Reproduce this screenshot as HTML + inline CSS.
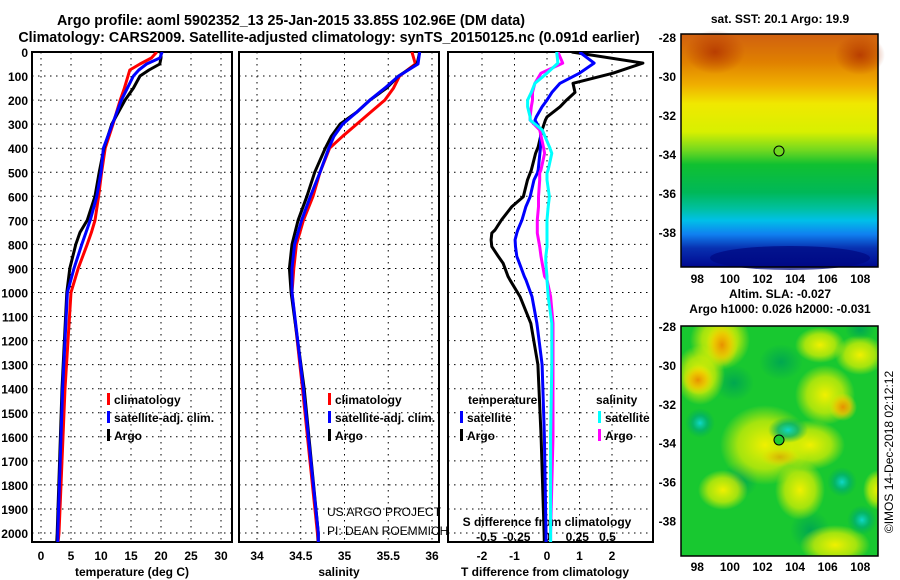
<!DOCTYPE html>
<html><head><meta charset="utf-8"><style>
body{margin:0;background:#fff;}
svg{display:block;font-family:"Liberation Sans",sans-serif;}
.b{font-weight:bold;font-size:14.3px;}
.t{font-weight:bold;font-size:12px;}
</style></head><body>
<svg id="s" width="900" height="580" viewBox="0 0 900 580" xmlns="http://www.w3.org/2000/svg">
<defs>
<linearGradient id="sst" x1="0" y1="0" x2="0" y2="1">
<stop offset="0" stop-color="#d06010"/><stop offset="0.12" stop-color="#e08000"/>
<stop offset="0.22" stop-color="#f0b000"/><stop offset="0.3" stop-color="#f0e800"/>
<stop offset="0.42" stop-color="#d8f000"/><stop offset="0.5" stop-color="#70d820"/>
<stop offset="0.56" stop-color="#10c030"/><stop offset="0.68" stop-color="#00b858"/>
<stop offset="0.75" stop-color="#00c0a0"/><stop offset="0.8" stop-color="#00c0e8"/>
<stop offset="0.86" stop-color="#1080f0"/><stop offset="0.92" stop-color="#0830b0"/>
<stop offset="1" stop-color="#000890"/></linearGradient>
<radialGradient id="rr"><stop offset="0" stop-color="#b03000" stop-opacity="0.8"/><stop offset="1" stop-color="#b03000" stop-opacity="0"/></radialGradient>
<radialGradient id="gy"><stop offset="0" stop-color="#f0f000"/><stop offset="0.6" stop-color="#e0f000" stop-opacity="0.7"/><stop offset="1" stop-color="#e0f000" stop-opacity="0"/></radialGradient>
<radialGradient id="go"><stop offset="0" stop-color="#e89000"/><stop offset="0.5" stop-color="#f0c000" stop-opacity="0.8"/><stop offset="1" stop-color="#f0e000" stop-opacity="0"/></radialGradient>
<radialGradient id="gt"><stop offset="0" stop-color="#10d8c8"/><stop offset="0.5" stop-color="#00b070" stop-opacity="0.8"/><stop offset="1" stop-color="#00b050" stop-opacity="0"/></radialGradient>
<radialGradient id="gd"><stop offset="0" stop-color="#00a850"/><stop offset="1" stop-color="#00a850" stop-opacity="0"/></radialGradient>
<clipPath id="c1"><rect x="32" y="52" width="200" height="490"/></clipPath>
<clipPath id="c2"><rect x="239" y="52" width="200" height="490"/></clipPath>
<clipPath id="c3"><rect x="448" y="52" width="205" height="490"/></clipPath>
<clipPath id="cm2"><rect x="681" y="326" width="197" height="230"/></clipPath>
</defs>
<text x="291" y="25" text-anchor="middle" class="b">Argo profile: aoml 5902352_13 25-Jan-2015 33.85S 102.96E (DM data)</text>
<text x="329" y="42" text-anchor="middle" class="b">Climatology: CARS2009. Satellite-adjusted climatology: synTS_20150125.nc (0.091d earlier)</text>
<g id="g"></g>
<g>
<rect x="681" y="34" width="197" height="233" fill="url(#sst)"/>
<ellipse cx="715" cy="52" rx="30" ry="22" fill="url(#rr)"/>
<ellipse cx="860" cy="55" rx="25" ry="20" fill="url(#rr)"/>
<ellipse cx="790" cy="258" rx="80" ry="12" fill="#000880" opacity="0.7"/>
<rect x="681" y="34" width="197" height="233" fill="none" stroke="#000" stroke-width="1.5"/>
<circle cx="779" cy="151" r="5" fill="#70d820" stroke="#000"/>
</g>
<text x="780" y="23" text-anchor="middle" class="t">sat. SST: 20.1 Argo: 19.9</text>
<g>
<rect x="681" y="326" width="197" height="230" fill="#18c830"/>
<g clip-path="url(#cm2)">
<ellipse cx="781" cy="362" rx="22" ry="18" fill="url(#gd)"/>
<ellipse cx="734" cy="383" rx="20" ry="18" fill="url(#gd)"/>
<ellipse cx="740" cy="480" rx="18" ry="18" fill="url(#gd)"/>
<ellipse cx="810" cy="530" rx="20" ry="20" fill="url(#gd)"/>
<ellipse cx="720" cy="340" rx="30" ry="30" fill="url(#gy)"/>
<ellipse cx="700" cy="375" rx="25" ry="30" fill="url(#gy)"/>
<ellipse cx="765" cy="445" rx="45" ry="40" fill="url(#gy)"/>
<ellipse cx="810" cy="445" rx="35" ry="25" fill="url(#gy)"/>
<ellipse cx="825" cy="395" rx="30" ry="30" fill="url(#gy)"/>
<ellipse cx="820" cy="345" rx="25" ry="18" fill="url(#gy)"/>
<ellipse cx="860" cy="355" rx="25" ry="20" fill="url(#gy)"/>
<ellipse cx="723" cy="490" rx="25" ry="20" fill="url(#gy)"/>
<ellipse cx="800" cy="490" rx="25" ry="30" fill="url(#gy)"/>
<ellipse cx="835" cy="545" rx="35" ry="20" fill="url(#gy)"/>
<ellipse cx="878" cy="490" rx="15" ry="20" fill="url(#gy)"/>
<ellipse cx="722" cy="345" rx="16" ry="22" fill="url(#go)"/>
<ellipse cx="698" cy="380" rx="16" ry="15" fill="url(#go)"/>
<ellipse cx="843" cy="407" rx="14" ry="14" fill="url(#go)"/>
<ellipse cx="780" cy="457" rx="20" ry="10" fill="url(#go)" opacity="0.6"/>
<ellipse cx="700" cy="423" rx="15" ry="15" fill="url(#gt)"/>
<ellipse cx="788" cy="430" rx="20" ry="13" fill="url(#gt)"/>
<ellipse cx="842" cy="482" rx="15" ry="15" fill="url(#gt)"/>
<ellipse cx="862" cy="520" rx="15" ry="15" fill="url(#gt)"/>
<ellipse cx="860" cy="330" rx="15" ry="10" fill="url(#gd)"/>
</g>
<rect x="681" y="326" width="197" height="230" fill="none" stroke="#000" stroke-width="1.5"/>
<circle cx="779" cy="440" r="5" fill="#20cc30" stroke="#000"/>
</g>
<text x="780" y="298" text-anchor="middle" class="t">Altim. SLA: -0.027</text>
<text x="780" y="313" text-anchor="middle" class="t">Argo h1000: 0.026 h2000: -0.031</text>
<text transform="translate(893,452) rotate(-90)" text-anchor="middle" font-size="12">©IMOS 14-Dec-2018 02:12:12</text>
<text x="327" y="516" font-size="12">US ARGO PROJECT</text>
<text x="327" y="535" font-size="12">PI: DEAN ROEMMICH</text>
</svg>
<script>
const depthT=[0,25,50,75,100,150,200,300,400,500,600,700,750,800,900,1000,1400,2000,2050];
const argoTemp=[20.0,20.0,19.8,18.0,16.5,15.4,14.0,11.8,10.5,9.7,9.0,7.7,6.5,5.8,4.8,4.3,3.5,2.7,2.6];
const climTemp=[19.3,18.4,16.5,14.8,14.5,13.9,13.2,12.0,10.7,10.1,9.6,9.0,8.4,7.7,6.2,5.0,4.0,3.0,2.8];
const satTemp=[20.2,19.8,17.6,16.3,15.4,14.4,13.4,11.9,10.4,10.0,9.3,8.2,7.5,6.8,5.5,4.4,3.6,2.8,2.8];
const depthS=[0,50,100,150,200,250,300,350,400,500,600,700,800,900,1000,1400,2000,2050];
const argoSal=[35.86,35.83,35.62,35.48,35.29,35.14,34.95,34.85,34.78,34.66,34.57,34.47,34.40,34.37,34.39,34.54,34.70,34.70];
const climSal=[35.77,35.81,35.63,35.56,35.46,35.30,35.14,34.98,34.83,34.72,34.64,34.53,34.45,34.42,34.40,34.52,34.69,34.70];
const satSal=[35.86,35.84,35.62,35.46,35.29,35.14,34.98,34.88,34.82,34.72,34.61,34.51,34.43,34.40,34.40,34.53,34.70,34.70];
const depthD=[0,46,88,130,168,200,228,270,283,324,394,421,490,504,532,602,643,698,740,753,781,809,850,878,933,947,1017,1128,1300,1600,2000,2050];
const argoTdiff=[0.76,2.95,2.03,0.8,0.86,0.6,0.4,0.0,-0.05,-0.15,-0.27,-0.35,-0.48,-0.52,-0.6,-0.73,-1.08,-1.4,-1.6,-1.7,-1.72,-1.7,-1.5,-1.35,-1.2,-1.14,-0.83,-0.5,-0.28,-0.18,-0.09,-0.08];
const satTdiff=[1.0,1.45,1.0,0.4,0.15,0.0,-0.15,-0.33,-0.37,-0.2,-0.2,-0.22,-0.27,-0.3,-0.4,-0.52,-0.65,-0.77,-0.9,-0.93,-0.98,-0.97,-0.93,-0.85,-0.7,-0.65,-0.46,-0.31,-0.15,-0.08,-0.03,-0.03];
const satSdiff=[0.08,0.09,0.0,-0.1,-0.13,-0.16,-0.16,-0.14,-0.14,-0.04,0.02,0.04,0.01,0.0,0.0,0.02,0.01,0.0,0.0,0.0,0.0,0.0,-0.01,-0.01,0.0,0.0,0.01,0.04,0.04,0.03,0.03,0.03];
const argoSdiff=[0.09,0.13,-0.05,-0.1,-0.12,-0.12,-0.13,-0.14,-0.14,-0.06,-0.03,-0.02,-0.05,-0.06,-0.06,-0.07,-0.07,-0.08,-0.08,-0.08,-0.07,-0.06,-0.05,-0.04,-0.02,0.0,0.03,0.05,0.05,0.05,0.03,0.03];
const depthTicks=[0,100,200,300,400,500,600,700,800,900,1000,1100,1200,1300,1400,1500,1600,1700,1800,1900,2000];
const tempTicks=[0,5,10,15,20,25,30];
const salTicks=[34,34.5,35,35.5,36];
const tdiffTicks=[-2,-1,0,1,2];
const sdiffTicks=[-0.5,-0.25,0,0.25,0.5];
const lonTicks=[98,100,102,104,106,108];
const latTicks=[-28,-30,-32,-34,-36,-38];
const yD=d=>52+d*0.2405;
const xT=v=>41+v*6;
const xS=v=>257+(v-34)*87.5;
const xTD=v=>547+v*32.5;
const xSD=v=>547+v*121;
const xLon=v=>681+(v-97)*16.3;
const yLat1=v=>37+(-28-v)*19.5;
const yLat2=v=>326+(-28-v)*19.45;
const NS='http://www.w3.org/2000/svg';
const G=document.getElementById('g');
function mk(tag,attrs,txt){const e=document.createElementNS(NS,tag);for(const k in attrs)e.setAttribute(k,attrs[k]);if(txt!==undefined)e.textContent=txt;G.appendChild(e);return e;}
const panels=[[32,232,xT,tempTicks,'temperature (deg C)',132],[239,439,xS,salTicks,'salinity',339],[448,653,xTD,tdiffTicks,'T difference from climatology',545]];
panels.forEach((p,i)=>{
  const [l,r,sx,ticks,title,cx]=p;
  depthTicks.forEach(d=>{const ln=mk('line',{x1:l,x2:r,y1:yD(d),y2:yD(d),stroke:'#000','stroke-dasharray':'1.5 4.5','stroke-width':1});
    
    });
  ticks.forEach(t=>{const x=sx(t);const ln=mk('line',{x1:x,x2:x,y1:52,y2:542,stroke:'#000','stroke-dasharray':'1.5 4.5','stroke-width':1});
    
    
    const tx=mk('text',{x:x,y:560,'text-anchor':'middle','class':'t'},String(t));
    
    });
  const bx=mk('rect',{x:l,y:52,width:r-l,height:490,fill:'none',stroke:'#000','stroke-width':2});
  
  
  const at=mk('text',{x:cx,y:576,'text-anchor':'middle','class':'t'},title);
  
  
});
depthTicks.forEach(d=>{const t=mk('text',{x:28,y:yD(d)+5,'text-anchor':'end','class':'t'},String(d));
  
  });
sdiffTicks.forEach(t=>{const e=mk('text',{x:xSD(t),y:541,'text-anchor':'middle','class':'t'},String(t));
  
  });
const sdt=mk('text',{x:547,y:526,'text-anchor':'middle','class':'t'},'S difference from climatology');


function line(xs,ds,sx,col,clip,name){
  const pts=xs.map((v,i)=>sx(v).toFixed(1)+','+yD(ds[i]).toFixed(1)).join(' ');
  const e=mk('polyline',{points:pts,fill:'none',stroke:col,'stroke-width':3,'clip-path':'url(#'+clip+')','stroke-linejoin':'round'});
  
  
}
line(climTemp,depthT,xT,'#ff0000','c1','temp-climatology-line');
line(argoTemp,depthT,xT,'#000','c1','temp-argo-line');
line(satTemp,depthT,xT,'#0000ff','c1','temp-satellite-line');
line(climSal,depthS,xS,'#ff0000','c2','sal-climatology-line');
line(argoSal,depthS,xS,'#000','c2','sal-argo-line');
line(satSal,depthS,xS,'#0000ff','c2','sal-satellite-line');
line(argoTdiff,depthD,xTD,'#000','c3','tdiff-argo-line');
line(satTdiff,depthD,xTD,'#0000ff','c3','tdiff-satellite-line');
line(argoSdiff,depthD,xSD,'#ff00ff','c3','sdiff-argo-line');
line(satSdiff,depthD,xSD,'#00ffff','c3','sdiff-satellite-line');
function leg(x,y,col,txt){
  const r=mk('rect',{x:x,y:y-11,width:3,height:12,fill:col});
  
  
  const t=mk('text',{x:x+7,y:y,'class':'t'},txt);
  
  
}
leg(107,404,'#ff0000','climatology');leg(107,422,'#0000ff','satellite-adj. clim.');leg(107,440,'#000','Argo');
leg(328,404,'#ff0000','climatology');leg(328,422,'#0000ff','satellite-adj. clim.');leg(328,440,'#000','Argo');
const lt=mk('text',{x:468,y:404,'class':'t'},'temperature');


const ls=mk('text',{x:596,y:404,'class':'t'},'salinity');


leg(460,422,'#0000ff','satellite');leg(460,440,'#000','Argo');
leg(598,422,'#00ffff','satellite');leg(598,440,'#ff00ff','Argo');
lonTicks.forEach(v=>{[[283,267],[571,556]].forEach(([ty,by])=>{
  const t=mk('text',{x:xLon(v),y:ty,'text-anchor':'middle','class':'t'},String(v));
  
  
  const k=mk('line',{x1:xLon(v),x2:xLon(v),y1:by,y2:by-3,stroke:'#000'});
  
  });});
latTicks.forEach(v=>{[yLat1(v),yLat2(v)].forEach(y=>{
  const t=mk('text',{x:676,y:y+5,'text-anchor':'end','class':'t'},String(v));
  
  });});
</script>
</body></html>
